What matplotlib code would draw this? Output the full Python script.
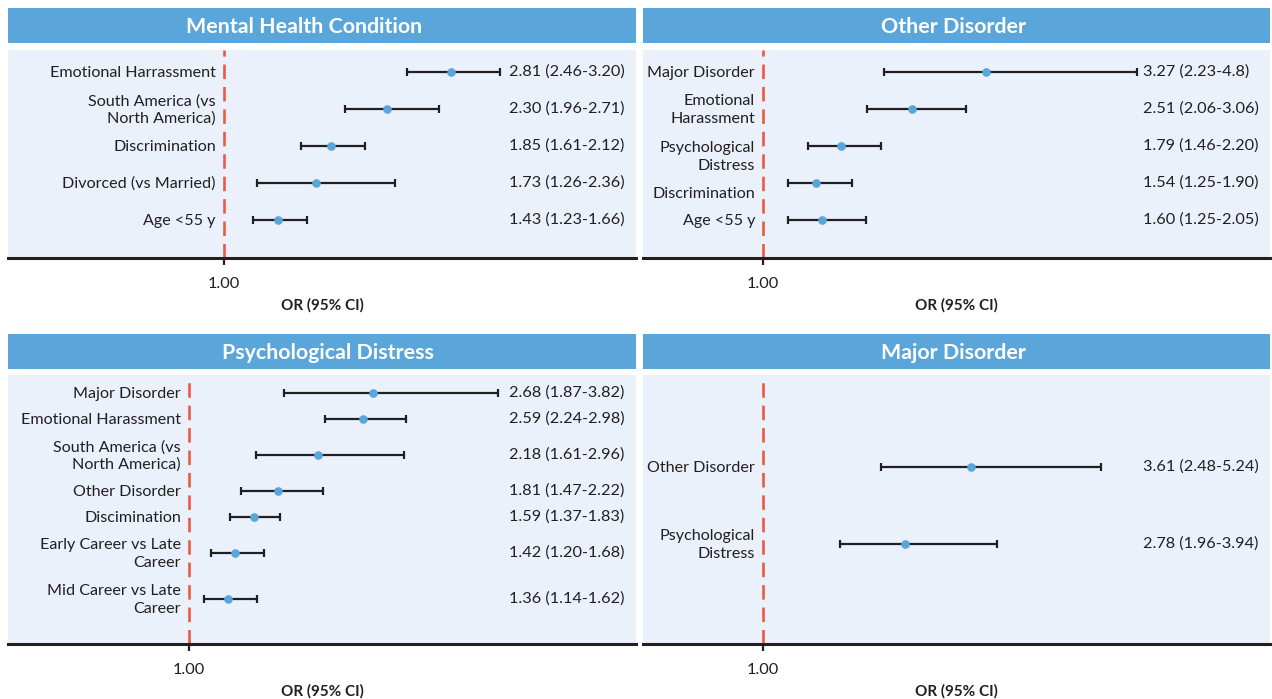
import matplotlib
matplotlib.use("Agg")
import matplotlib.pyplot as plt
from matplotlib.transforms import blended_transform_factory

plt.rcParams["font.family"] = ["Lato", "DejaVu Sans"]

# --- data -------------------------------------------------------------
mh_labels = ["Emotional Harrassment", "South America (vs\nNorth America)",
             "Discrimination", "Divorced (vs Married)", "Age <55 y"]
mh_or = [2.81, 2.30, 1.85, 1.73, 1.43]
mh_lo = [2.46, 1.96, 1.61, 1.26, 1.23]
mh_hi = [3.20, 2.71, 2.12, 2.36, 1.66]
mh_txt = ["2.81 (2.46-3.20)", "2.30 (1.96-2.71)", "1.85 (1.61-2.12)",
          "1.73 (1.26-2.36)", "1.43 (1.23-1.66)"]

od_labels = ["Major Disorder", "Emotional\nHarassment", "Psychological\nDistress",
             "Discrimination", "Age <55 y"]
od_or = [3.27, 2.51, 1.79, 1.54, 1.60]
od_lo = [2.23, 2.06, 1.46, 1.25, 1.25]
od_hi = [4.8, 3.06, 2.20, 1.90, 2.05]
od_txt = ["3.27 (2.23-4.8)", "2.51 (2.06-3.06)", "1.79 (1.46-2.20)",
          "1.54 (1.25-1.90)", "1.60 (1.25-2.05)"]

pd_labels = ["Major Disorder", "Emotional Harassment", "South America (vs\nNorth America)",
             "Other Disorder", "Discimination", "Early Career vs Late\nCareer",
             "Mid Career vs Late\nCareer"]
pd_or = [2.68, 2.59, 2.18, 1.81, 1.59, 1.42, 1.36]
pd_lo = [1.87, 2.24, 1.61, 1.47, 1.37, 1.20, 1.14]
pd_hi = [3.82, 2.98, 2.96, 2.22, 1.83, 1.68, 1.62]
pd_txt = ["2.68 (1.87-3.82)", "2.59 (2.24-2.98)", "2.18 (1.61-2.96)",
          "1.81 (1.47-2.22)", "1.59 (1.37-1.83)", "1.42 (1.20-1.68)",
          "1.36 (1.14-1.62)"]

md_labels = ["Other Disorder", "Psychological\nDistress"]
md_or = [3.61, 2.78]
md_lo = [2.48, 1.96]
md_hi = [5.24, 3.94]
md_txt = ["3.61 (2.48-5.24)", "2.78 (1.96-3.94)"]

# --- style ------------------------------------------------------------
HEAD = "#5aa5da"
BG = "#eaf1fa"
DOT = "#5aa5da"
REF = "#ec5a45"
INK = "#231f20"

W, H = 1272, 699


def box(x0, y0, x1, y1):
    return [x0 / W, 1 - y1 / H, (x1 - x0) / W, (y1 - y0) / H]


def rows(labels, top, gap, by_lines=False):
    # row centres in pixels from the top of the panel
    half = lambda s: 13 if s.count("\n") == 0 else 23
    pos = [top]
    for a, b in zip(labels[:-1], labels[1:]):
        pos.append(pos[-1] + (half(a) + half(b) if by_lines else gap))
    return pos


panels = [
    ("Mental Health Condition", mh_labels, mh_or, mh_lo, mh_hi, mh_txt,
     (8, 636), (8, 43), (50, 258), (-0.718, 4.278), rows(mh_labels, 22, 37), None, -18),
    ("Other Disorder", od_labels, od_or, od_lo, od_hi, od_txt,
     (643, 1270), (8, 43), (50, 258), (-0.2195, 6.152), rows(od_labels, 22, 37),
     [0, 0, 10, 10, 0], -3),
    ("Psychological Distress", pd_labels, pd_or, pd_lo, pd_hi, pd_txt,
     (8, 636), (334, 369), (375, 644), (-0.650, 5.075), rows(pd_labels, 18, 0, True), None, 6),
    ("Major Disorder", md_labels, md_or, md_lo, md_hi, md_txt,
     (643, 1270), (334, 369), (375, 644), (-0.506, 7.361), rows(md_labels, 92, 77), None, -3),
]

fig = plt.figure(figsize=(12.72, 6.99), dpi=100)

for (title, labels, ors, los, his, txts, (x0, x1), (h0, h1), (a0, a1),
     xlim, ypos, shift, tshift) in panels:
    hx = fig.add_axes(box(x0, h0, x1, h1))
    hx.set_facecolor(HEAD)
    hx.set_xticks([])
    hx.set_yticks([])
    for s in hx.spines.values():
        s.set_visible(False)
    hx.annotate(title, (0.5, 0.47), xycoords="axes fraction", xytext=(tshift, 0),
                textcoords="offset pixels", color="white", fontsize=15.4,
                fontweight="bold", ha="center", va="center")

    ax = fig.add_axes(box(x0, a0, x1, a1))
    ax.set_facecolor(BG)
    ax.set_xlim(*xlim)
    ax.set_ylim(a1 - a0, 0)
    for k in ["top", "left", "right"]:
        ax.spines[k].set_visible(False)
    ax.spines["bottom"].set_linewidth(2.2)
    ax.spines["bottom"].set_color(INK)
    ax.set_yticks([])
    ax.set_xticks([1.0])
    ax.set_xticklabels(["1.00"])
    ax.tick_params(axis="x", length=5, width=1.6, color=INK, pad=9,
                   labelsize=11.8, labelcolor=INK)
    ax.set_xlabel("OR (95% CI)", fontsize=11, fontweight="bold", color=INK, labelpad=5)

    ax.axvline(1.0, color=REF, lw=1.9, dashes=(5.5, 3), zorder=1)

    err = [[o - l for o, l in zip(ors, los)], [h - o for o, h in zip(ors, his)]]
    ax.errorbar(ors, ypos, xerr=err, fmt="o", color=DOT, ms=5.2, mec=DOT,
                ecolor=INK, elinewidth=1.6, capsize=3, capthick=1.6, zorder=3)

    tr = blended_transform_factory(ax.transAxes, ax.transData)
    for i, (lab, t, y) in enumerate(zip(labels, txts, ypos)):
        dy = shift[i] if shift else 0
        ax.annotate(lab, (1.0, y), xytext=(-8, -dy - 1), textcoords="offset pixels",
                    ha="right", va="center", fontsize=11.6, color=INK,
                    multialignment="right", linespacing=1.3)
        ax.text(0.797, y, t, transform=tr, ha="left", va="center",
                fontsize=11.7, color=INK)

fig.savefig("out.png", dpi=100)
